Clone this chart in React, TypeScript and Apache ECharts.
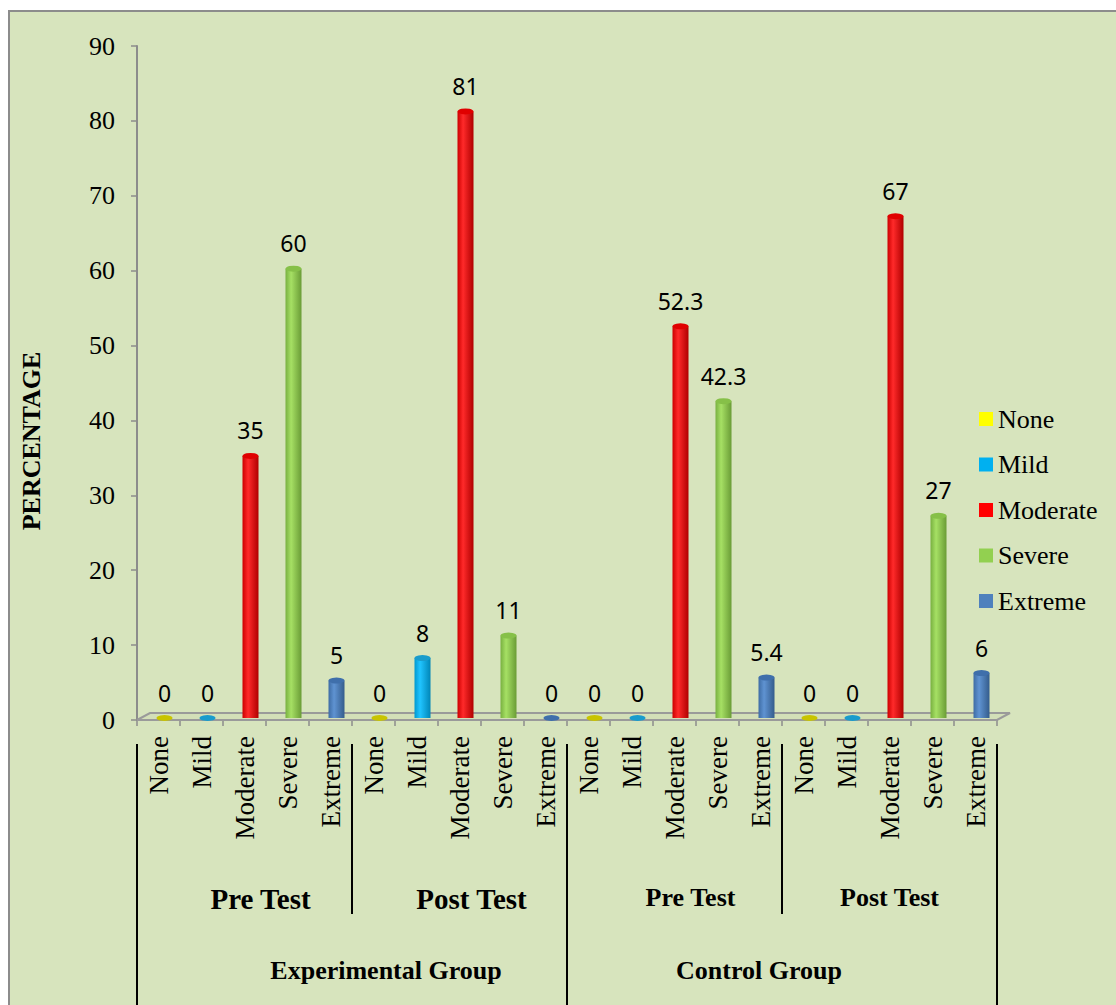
import React, { useEffect, useRef } from "react";
import * as echarts from "echarts";

// ---- data ----
const levels = ["None", "Mild", "Moderate", "Severe", "Extreme"];
const phaseLabels = ["Pre Test", "Post Test", "Pre Test", "Post Test"];
const groupLabels = ["Experimental Group", "Control Group"];
const expPre = [0, 0, 35, 60, 5];
const expPost = [0, 8, 81, 11, 0];
const ctrlPre = [0, 0, 52.3, 42.3, 5.4];
const ctrlPost = [0, 0, 67, 27, 6];
const phases = [expPre, expPost, ctrlPre, ctrlPost];
const yMin = 0;
const yMax = 90;
const yInterval = 10;

// ---- styles ----
const baseColors = ["#FFFF00", "#00B0F0", "#FF0000", "#92D050", "#4F81BD"];
const gradStops = [
  ["#d8d800", "#ffff40", "#c8c800"],
  ["#0098d0", "#20c4ff", "#0086b8"],
  ["#cc0000", "#ff2a2a", "#b00000"],
  ["#78b040", "#a6e064", "#6a9c36"],
  ["#3e6ca4", "#5f93d2", "#345c8c"],
];
const capColors = ["#c8c400", "#1a9ccc", "#e00000", "#86c048", "#3f6fab"];
const serif = "Liberation Serif";
const sans = "Noto Sans";

const W = 1116;
const H = 1005;
const GL = 137;
const GR = 119;
const GT = 46;
const GB = 285;
const BAR_DX = 6;
const BAR_DY = 2;

export default function App() {
  const ref = useRef<HTMLDivElement>(null);
  useEffect(() => {
    document.body.style.margin = "0";
    if (!ref.current) return;
    const chart = echarts.init(ref.current, null, { renderer: "svg" });

    const allCats = phases.flatMap(() => levels);
    const seriesData = levels.map((_, k) =>
      phases.flatMap((vals) => levels.map((__, j) => (j === k ? vals[k] : "-")))
    );

    const phaseOffsets = [32, 24, 32, 0];
    const phaseSizes = [29, 29, 26, 26];
    const groupPads = [
      [0, 0, 0, 68],
      [0, 46, 0, 0],
    ];

    const barSeries = levels.map((name, k) => ({
      name,
      type: "bar",
      xAxisIndex: 3,
      yAxisIndex: 1,
      barWidth: 16,
      barGap: "-100%",
      data: seriesData[k],
      itemStyle: {
        color: new echarts.graphic.LinearGradient(0, 0, 1, 0, [
          { offset: 0, color: gradStops[k][0] },
          { offset: 0.35, color: gradStops[k][1] },
          { offset: 1, color: gradStops[k][2] },
        ]),
      },
      z: 3,
    }));

    const capSeries = levels.map((name, k) => ({
      name,
      type: "scatter",
      xAxisIndex: 3,
      yAxisIndex: 1,
      symbol: "circle",
      symbolSize: [16, 6],
      data: seriesData[k],
      itemStyle: { color: capColors[k], opacity: 1 },
      label: {
        show: true,
        position: "top",
        distance: 11,
        fontFamily: sans,
        fontSize: 23,
        color: "#000",
      },
      z: 4,
    }));

    const gridBottomY = H - GB;
    const gridRightX = W - GR;

    chart.setOption({
      animation: false,
      backgroundColor: "#ffffff",
      graphic: [
        {
          type: "rect",
          z: -10,
          shape: { x: 9, y: 11, width: 1120, height: 1010 },
          style: { fill: "#D7E4BD", stroke: "#8c8c8c", lineWidth: 2 },
        },
        {
          type: "polygon",
          z: 1,
          shape: {
            points: [
              [GL, gridBottomY],
              [GL + 13, gridBottomY - 7],
              [gridRightX + 13, gridBottomY - 7],
              [gridRightX, gridBottomY],
            ],
          },
          style: { fill: "#d3dfb8", stroke: "#9a9a9a", lineWidth: 2 },
        },
        {
          type: "text",
          x: 31,
          y: 441,
          rotation: Math.PI / 2,
          style: {
            text: "PERCENTAGE",
            font: `bold 26px "${serif}"`,
            fill: "#000",
            textAlign: "center",
            textVerticalAlign: "middle",
          },
        },
      ],
      legend: {
        orient: "vertical",
        left: 974,
        top: 401,
        icon: "rect",
        itemWidth: 14,
        itemHeight: 14,
        itemGap: 19.5,
        textStyle: { fontFamily: serif, fontSize: 26, lineHeight: 26, color: "#000" },
        data: levels.map((name, k) => ({ name, itemStyle: { color: baseColors[k] } })),
      },
      grid: [
        { left: GL, right: GR, top: GT, bottom: GB },
        { left: GL + BAR_DX, right: GR - BAR_DX, top: GT - BAR_DY, bottom: GB + BAR_DY },
      ],
      xAxis: [
        {
          type: "category",
          gridIndex: 0,
          data: allCats,
          axisLine: { lineStyle: { color: "#8c8c8c", width: 2 } },
          axisTick: { show: true, interval: 0, length: 6, lineStyle: { color: "#8c8c8c", width: 1.5 } },
          axisLabel: {
            interval: 0,
            rotate: 90,
            margin: 16,
            fontFamily: serif,
            fontSize: 27,
            color: "#000",
          },
        },
        {
          type: "category",
          gridIndex: 0,
          position: "bottom",
          offset: 24,
          data: phaseLabels.map((v, i) => ({
            value: v,
            textStyle: { padding: [0, 0, 0, phaseOffsets[i]], fontSize: phaseSizes[i] },
          })),
          axisLine: { show: false },
          axisTick: { show: true, interval: 0, length: 170, lineStyle: { color: "#000", width: 2 } },
          axisLabel: {
            interval: 0,
            margin: 140,
            fontFamily: serif,
            fontWeight: "bold",
            fontSize: 26,
            color: "#000",
          },
        },
        {
          type: "category",
          gridIndex: 0,
          position: "bottom",
          offset: 29,
          data: groupLabels.map((v, i) => ({
            value: v,
            textStyle: { padding: groupPads[i] },
          })),
          axisLine: { show: false },
          axisTick: { show: true, interval: 0, length: 270, lineStyle: { color: "#000", width: 2 } },
          axisLabel: {
            interval: 0,
            margin: 208,
            fontFamily: serif,
            fontWeight: "bold",
            fontSize: 26,
            color: "#000",
          },
        },
        {
          type: "category",
          gridIndex: 1,
          data: allCats,
          show: false,
        },
      ],
      yAxis: [
        {
          type: "value",
          gridIndex: 0,
          min: yMin,
          max: yMax,
          interval: yInterval,
          splitLine: { show: false },
          axisLine: { show: true, lineStyle: { color: "#8c8c8c", width: 2 } },
          axisTick: { show: true, length: 6, lineStyle: { color: "#8c8c8c", width: 1.5 } },
          axisLabel: { margin: 22, fontFamily: serif, fontSize: 26, color: "#000" },
        },
        {
          type: "value",
          gridIndex: 1,
          min: yMin,
          max: yMax,
          interval: yInterval,
          show: false,
          splitLine: { show: false },
        },
      ],
      series: [...barSeries, ...capSeries],
    });

    return () => chart.dispose();
  }, []);

  return <div ref={ref} style={{ width: W, height: H, background: "#fff" }} />;
}
